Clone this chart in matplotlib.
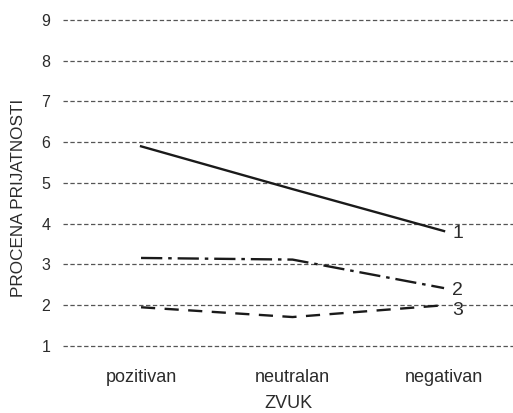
import numpy as np
import matplotlib.pyplot as plt

plt.rcParams['font.family'] = ['Liberation Sans', 'DejaVu Sans']

# Categories and series values
categories = ['pozitivan', 'neutralan', 'negativan']
series_1 = [5.9, 4.85, 3.82]
series_2 = [3.16, 3.12, 2.42]
series_3 = [1.95, 1.71, 2.0]
series_labels = ['1', '2', '3']
yticks = [1, 2, 3, 4, 5, 6, 7, 8, 9]

textColor = '#2b2b2b'

fig = plt.figure(figsize=(5.13, 4.13), dpi=100)
ax = fig.add_axes([0.1228, 0.1327, 0.8772, 0.8386])

x = np.arange(len(categories))

# Horizontal dashed grid lines
for yv in yticks:
    ax.axhline(yv, color='#555555', linewidth=0.9, linestyle=(0, (3.5, 2)), zorder=1)

ax.plot(x, series_1, color='#1a1a1a', linewidth=1.7, linestyle='-', zorder=3)
ax.plot(x, series_2, color='#1a1a1a', linewidth=1.7, linestyle=(0, (9, 2.5, 1.5, 2.5)), zorder=3)
ax.plot(x, series_3, color='#1a1a1a', linewidth=1.7, linestyle=(0, (6, 4)), zorder=3)

# Line end labels
offsets = [(6, -2), (6, -1.5), (6, -3.5)]
for ser, lab, off in zip([series_1, series_2, series_3], series_labels, offsets):
    ax.annotate(lab, xy=(x[-1], ser[-1]), xytext=off, textcoords='offset points',
                ha='left', va='center', fontsize=14, color=textColor)

ax.set_xlim(-0.515, 2.455)
ax.set_ylim(0.7, 9.2)
ax.set_xticks(x)
ax.set_xticklabels(categories)
ax.set_yticks(yticks)

for s in ax.spines.values():
    s.set_visible(False)

ax.tick_params(axis='x', length=0, pad=8, labelsize=13, labelcolor=textColor)
ax.tick_params(axis='y', length=0, pad=9, labelsize=11.5, labelcolor=textColor)

ax.set_xlabel('ZVUK', fontsize=13, color=textColor, labelpad=6)
ax.set_ylabel('PROCENA PRIJATNOSTI', fontsize=12.3, color=textColor)
ax.yaxis.set_label_coords(-0.082, 0.4625)

fig.savefig('out.png', dpi=100)
